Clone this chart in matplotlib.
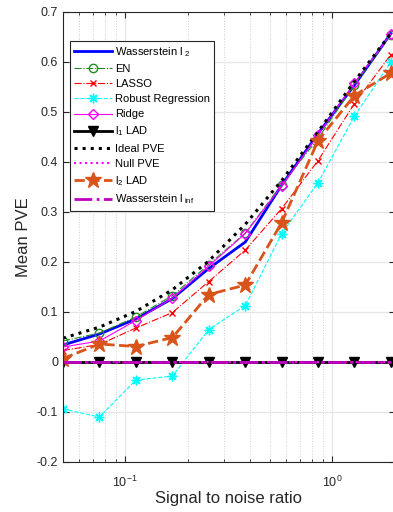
import matplotlib
matplotlib.use("Agg")
import matplotlib.pyplot as plt
from matplotlib.ticker import FixedLocator, FuncFormatter, LogLocator, NullFormatter

plt.rcParams['font.family'] = ['Liberation Sans', 'DejaVu Sans']
plt.rcParams['mathtext.fontset'] = 'custom'
plt.rcParams['mathtext.rm'] = 'Liberation Sans'
plt.rcParams['mathtext.it'] = 'Liberation Sans'

# signal to noise ratios of the experiment grid
snr = [0.05, 0.075, 0.1125, 0.169, 0.253, 0.38, 0.57, 0.854, 1.28, 1.92]

# mean proportion of variance explained, one list per estimator
wass_l2 = [0.034, 0.056, 0.086, 0.127, 0.187, 0.240, 0.354, 0.457, 0.554, 0.657]
en = [0.042, 0.058, 0.090, 0.133, 0.195, 0.258, 0.355, 0.447, 0.555, 0.655]
lasso = [0.023, 0.035, 0.068, 0.099, 0.161, 0.224, 0.307, 0.403, 0.517, 0.615]
robust = [-0.094, -0.110, -0.036, -0.028, 0.065, 0.113, 0.257, 0.359, 0.492, 0.600]
ridge = [0.030, 0.042, 0.083, 0.128, 0.192, 0.257, 0.352, 0.455, 0.558, 0.656]
l1_lad = [0, 0, 0, 0, 0, 0, 0, 0, 0, 0]
ideal = [0.0476, 0.0698, 0.1011, 0.1446, 0.2019, 0.2754, 0.3631, 0.4606, 0.5614, 0.6575]
null_pve = [0, 0, 0, 0, 0, 0, 0, 0, 0, 0]
l2_lad = [0.007, 0.036, 0.031, 0.049, 0.135, 0.154, 0.279, 0.443, 0.533, 0.578]
wass_linf = [0, 0, 0, 0, 0, 0, 0, 0, 0, 0]

yticks = [-0.2, -0.1, 0, 0.1, 0.2, 0.3, 0.4, 0.5, 0.6, 0.7]

fig = plt.figure(figsize=(3.93, 5.12), dpi=100)
ax = fig.add_axes([63 / 393, 50 / 512, 331.6 / 393, 450 / 512])

orange = (0.85, 0.33, 0.10)
purple = (0.75, 0.0, 0.75)
green = (0.13, 0.55, 0.13)
cyan = '#00ffff'
magenta = '#ff00ff'
asterisk = (8, 2, 0)

ax.plot(snr, wass_l2, '-', color='b', lw=2, label='Wasserstein l$_{\\ 2}$')
ax.plot(snr, en, '-.', color=green, lw=0.8, marker='o', ms=6,
        mfc='none', mec=green, label='EN')
ax.plot(snr, lasso, '-.', color='r', lw=0.8, marker='x', ms=5, label='LASSO')
ax.plot(snr, robust, '--', color=cyan, lw=0.8, marker=asterisk, ms=7, mew=1.0,
        label='Robust Regression')
ax.plot(snr, ridge, '-', color=magenta, lw=0.8, marker='D', ms=5, mfc='none',
        label='Ridge')
ax.plot(snr, l1_lad, '-', color='k', lw=2, marker='v', ms=7, mfc='k',
        label='l$_1$ LAD')
ax.plot(snr, ideal, ':', color='k', lw=2.2, label='Ideal PVE')
ax.plot(snr, null_pve, ':', color=magenta, lw=1.5, label='Null PVE')
ax.plot(snr, l2_lad, '--', color=orange, lw=2, marker='*', ms=12, mfc=orange,
        mec=orange, label='l$_2$ LAD')
ax.plot(snr, wass_linf, '-.', color=purple, lw=2,
        label='Wasserstein l$_{\\ \\mathrm{inf}}$')

ax.set_xscale('log')
ax.set_xlim(0.05, 2)
ax.set_ylim(-0.2, 0.7)
ax.yaxis.set_major_locator(FixedLocator(yticks))
ax.yaxis.set_major_formatter(FuncFormatter(lambda v, p: '%g' % round(v, 2)))
ax.xaxis.set_major_locator(LogLocator(base=10))
ax.xaxis.set_minor_locator(LogLocator(base=10, subs=range(2, 10)))
ax.xaxis.set_minor_formatter(NullFormatter())

ax.grid(True, which='major', color='#e6e6e6', lw=0.9)
ax.grid(True, which='minor', axis='x', color='#d0d0d0', lw=0.7, ls=':')
ax.set_axisbelow(True)

ax.tick_params(which='both', direction='in', top=True, right=True,
               labelsize=9, colors='#262626', length=4)
ax.tick_params(axis='x', which='major', pad=9)
ax.tick_params(which='minor', length=2.5)
for s in ax.spines.values():
    s.set_color('#262626')

ax.set_xlabel('Signal to noise ratio', fontsize=12, color='#262626', labelpad=1)
ax.set_ylabel('Mean PVE', fontsize=12, color='#262626')

leg = ax.legend(loc='upper left', bbox_to_anchor=(0.021, 0.936), fontsize=8,
                frameon=True, fancybox=False, edgecolor='#262626',
                framealpha=1, borderpad=0.4, labelspacing=0.46,
                handlelength=3.4, handletextpad=0.25, borderaxespad=0)
leg.get_frame().set_linewidth(0.8)

fig.savefig('out.png', dpi=100)
